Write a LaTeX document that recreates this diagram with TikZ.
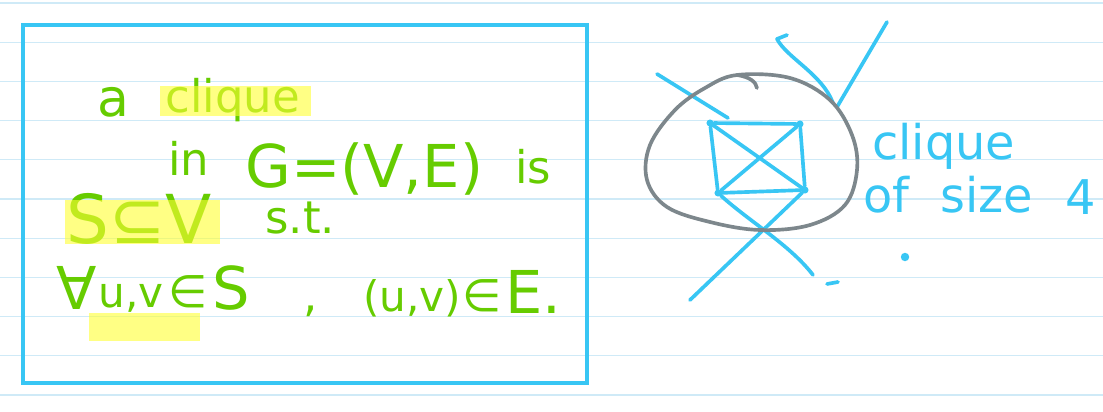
\documentclass[tikz,border=0pt]{standalone}
\usepackage{fontspec}
\setmainfont{DejaVu Sans}
\usetikzlibrary{positioning}
\definecolor{penblue}{HTML}{38C6F4}
\definecolor{pengreen}{HTML}{66CC00}
\definecolor{pengray}{HTML}{7D878C}
\definecolor{ruleblue}{HTML}{CFEAF7}
\definecolor{hlyellow}{HTML}{FFFF33}

\begin{document}
\begin{tikzpicture}[x=0.025cm,y=-0.025cm,
  every node/.style={inner sep=0pt},
  note/.style={text=pengreen,font=\fontsize{32}{36}\selectfont,anchor=base west},
  bignote/.style={note,font=\fontsize{42}{46}\selectfont},
  side/.style={text=penblue,font=\fontsize{34}{38}\selectfont,anchor=base west},
  hl/.style={fill=hlyellow,opacity=0.6},
  pen/.style={draw=penblue,line width=2.6pt,line cap=round,line join=round},
  vtx/.style={circle,fill=penblue,minimum size=5pt},
  ring/.style={draw=pengray,line width=2.6pt,line cap=round,line join=round}
]
\useasboundingbox (0,0) rectangle (1103,412);
\fill[white] (0,0) rectangle (1103,412);

% ruled paper
\foreach \k in {0,...,10}
  \draw[ruleblue,line width=0.9pt] (0,3+39.2*\k) -- (1103,3+39.2*\k);

% definition box
\draw[penblue,line width=2.8pt] (23,25) rectangle (587,383);

\node[note,font=\fontsize{37}{40}\selectfont] (a) at (97,117) {a};
\node[note] (cl) at (165,113) {clique};
\node[note] (in) at (168,176) {in};
\node[bignote] (g) at (245,188) {G=(V,E)};
\node[note] (is) at (515,184) {is};
\node[bignote,font=\fontsize{48}{52}\selectfont] (sv) at (66,243) {S⊆V};
\node[note] (st) at (265,234) {s.t.};
\node[bignote] (all) at (56,309) {∀};
\node[note,font=\fontsize{30}{34}\selectfont] (uv) at (98,307) {u,v};
\node[note] (in1) at (168,307) {∈};
\node[bignote] (s) at (212,309) {S};
\node[note] (cm) at (303,311) {,};
\node[note,font=\fontsize{30}{34}\selectfont] (pair) at (363,311) {(u,v)};
\node[note] (in2) at (462,311) {∈};
\node[bignote] (e) at (505,313) {E.};

% highlighter
\fill[hl] (160,86) rectangle (311,116);
\fill[hl] (65,200) rectangle (220,244);
\fill[hl] (89,313) rectangle (200,341);

% clique of size 4
\node[vtx] (tl) at (710,123) {};
\node[vtx] (tr) at (800,124) {};
\node[vtx] (br) at (805,190) {};
\node[vtx] (bl) at (718,193) {};
\draw[pen] (tl) -- (tr) -- (br) -- (bl) -- (tl);
\draw[pen] (tl) -- (br);
\draw[pen] (tr) -- (bl);

\coordinate (a1) at (657,74);
\coordinate (a2) at (728,118);
\coordinate (b0) at (787,35);
\coordinate (b1) at (777,39);
\coordinate (b2) at (833,103);
\coordinate (c1) at (887,22);
\coordinate (c2) at (837,107);
\coordinate (d1) at (813,275);
\coordinate (f1) at (690,300);
\draw[pen] (a1) -- (a2);
\draw[pen] (b0) -- (b1) .. controls (787,58) and (822,74) .. (b2);
\draw[pen] (c1) -- (c2);
\draw[pen] (bl) .. controls (750,222) and (790,245) .. (d1);
\draw[pen] (br) -- (f1);

% circle round the clique
\draw[ring] plot[smooth cycle,tension=0.6] coordinates {(737,75) (790,78) (830,100) (852,135) (857,170) (845,205) (810,225) (760,230) (710,222) (667,207) (647,180) (650,145) (675,110) (705,88)};
\draw[ring] (737,75) .. controls (750,77) and (756,82) .. (757,88);

\node[side] (lab1) at (872,160) {clique};
\node[side] (lab2) at (863,213) {of};
\node[side] (lab3) at (940,213) {size};
\node[side] (lab4) at (1065,215) {4};
\coordinate (dash1) at (827,284);
\coordinate (dash2) at (838,282);
\draw[pen] (dash1) -- (dash2);
\fill[penblue] (905,257) circle (3pt);
\end{tikzpicture}
\end{document}
